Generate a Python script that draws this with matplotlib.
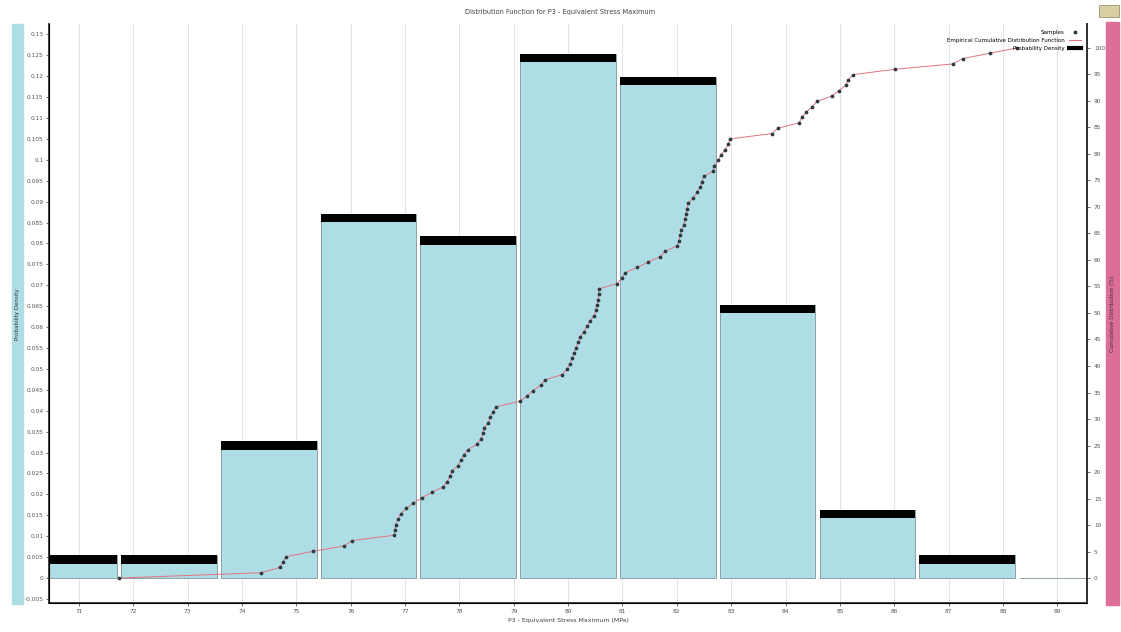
import numpy as np
import matplotlib.pyplot as plt
from matplotlib.lines import Line2D
from matplotlib.patches import Rectangle

# sorted samples of P3 - Equivalent Stress Maximum (MPa)
samples = [71.74, 74.35, 74.70, 74.75, 74.81, 75.31, 75.88, 76.02, 76.80, 76.81,
           76.83, 76.87, 76.92, 77.02, 77.15, 77.31, 77.49, 77.70, 77.77, 77.83,
           77.86, 77.97, 78.03, 78.08, 78.16, 78.32, 78.40, 78.43, 78.45, 78.53,
           78.56, 78.62, 78.67, 79.11, 79.24, 79.35, 79.50, 79.57, 79.89, 79.98,
           80.03, 80.07, 80.11, 80.14, 80.18, 80.22, 80.29, 80.35, 80.40, 80.48,
           80.51, 80.53, 80.55, 80.56, 80.57, 80.90, 80.99, 81.05, 81.27, 81.47,
           81.69, 81.78, 82.00, 82.04, 82.06, 82.08, 82.13, 82.15, 82.17, 82.19,
           82.21, 82.30, 82.37, 82.43, 82.46, 82.50, 82.67, 82.68, 82.76, 82.81,
           82.89, 82.94, 82.98, 83.75, 83.86, 84.25, 84.30, 84.38, 84.49, 84.58,
           84.85, 84.98, 85.11, 85.15, 85.24, 86.01, 87.08, 87.26, 87.76, 88.26]

# histogram bins and probability density
bin_edges = [69.900, 71.736, 73.572, 75.408, 77.244, 79.080, 80.916,
             82.752, 84.588, 86.424, 88.260, 90.096]
density = [0.0054, 0.0054, 0.0327, 0.0871, 0.0817, 0.1253, 0.1198,
           0.0654, 0.0163, 0.0054, 0.0]

x_ticks = list(range(71, 90))
left_ticks = np.arange(-0.005, 0.1301, 0.005)
right_ticks = list(range(0, 101, 5))

bar_blue = '#AEDDE5'
pink = '#DD6E98'
cdf_red = '#E27482'
dot_col = '#2E3C40'

W, H = 1121, 632
fig = plt.figure(figsize=(W / 100, H / 100), dpi=100)
ax = fig.add_axes([49 / W, 1 - 603 / H, (1087 - 49) / W, (603 - 24) / H])

# histogram bars with black top caps
edges = np.array(bin_edges)
dens = np.array(density)
gap = 0.075
widths = np.diff(edges) - gap
ax.bar(edges[:-1] + gap / 2, dens, width=widths, align='edge', color=bar_blue,
       edgecolor='#7E9599', linewidth=0.6, zorder=2)
cap = 0.002
has = dens > 0
ax.bar(edges[:-1][has] + gap / 2, np.full(has.sum(), cap), bottom=dens[has] - cap,
       width=widths[has], align='edge', color='black', linewidth=0, zorder=3)

ax.set_xlim(70.448, 89.547)
ax.set_ylim(-0.0060, 0.1325)
ax.set_xticks(x_ticks)
ax.set_xticklabels([str(t) for t in x_ticks])
ax.set_yticks(left_ticks)
ax.set_yticklabels(['%g' % round(t, 3) for t in left_ticks])
ax.grid(axis='x', color='#E4E4E4', linewidth=0.8, zorder=0)
ax.set_axisbelow(True)
ax.tick_params(labelsize=4.2, colors='#555555', length=2, width=0.6, pad=2)
ax.set_xlabel('P3 - Equivalent Stress Maximum (MPa)', fontsize=4.5, color='#444444',
              labelpad=3)
for s in ['left', 'bottom', 'right']:
    ax.spines[s].set_color('#333333')
    ax.spines[s].set_linewidth(1.3)
ax.spines['top'].set_visible(False)

# empirical CDF on the right axis
ax2 = ax.twinx()
cdf = np.linspace(0, 100, len(samples))
ax2.plot(samples, cdf, color=cdf_red, linewidth=0.7, zorder=2)
ax2.plot(samples, cdf, 'o', markersize=1.7, color=dot_col, zorder=3)
ax2.set_ylim(-4.7, 104.5)
ax2.set_yticks(right_ticks)
ax2.tick_params(labelsize=4.2, colors='#555555', length=2, width=0.6, pad=3)
ax2.spines['top'].set_visible(False)
ax2.spines['right'].set_color('#333333')
ax2.spines['right'].set_linewidth(1.3)

handles = [Line2D([], [], marker='o', linestyle='none', markersize=1.8, color=dot_col),
           Line2D([], [], color=cdf_red, linewidth=0.8),
           Line2D([], [], color='black', linewidth=3)]
labels = ['Samples', 'Empirical Cumulative Distribution Function', 'Probability Density']
ax2.legend(handles, labels, loc='upper right', frameon=False, markerfirst=False,
           fontsize=4, handlelength=2.2, labelspacing=0.55, borderaxespad=0.6)

fig.text(560 / W, 1 - 12 / H, 'Distribution Function for P3 - Equivalent Stress Maximum',
         ha='center', va='center', fontsize=4.8, color='#444444')

# coloured axis title boxes
fig.add_artist(Rectangle((12 / W, 1 - 604 / H), 11 / W, 580 / H,
                         transform=fig.transFigure, color=bar_blue, zorder=0))
fig.text(17.5 / W, 1 - 314 / H, 'Probability Density', rotation=90,
         ha='center', va='center', fontsize=4, color='#333333')
fig.add_artist(Rectangle((1106 / W, 1 - 605 / H), 13 / W, 583 / H,
                         transform=fig.transFigure, color=pink, zorder=0))
fig.text(1112.5 / W, 1 - 314 / H, 'Cumulative Distribution (%)', rotation=90,
         ha='center', va='center', fontsize=4, color='#333333')

# small toolbar icon in the corner
fig.add_artist(Rectangle((1099 / W, 1 - 17 / H), 20 / W, 12 / H,
                         transform=fig.transFigure, facecolor='#D8CFA2',
                         edgecolor='#9C9270', linewidth=0.6))

fig.savefig('out.png', dpi=100)
